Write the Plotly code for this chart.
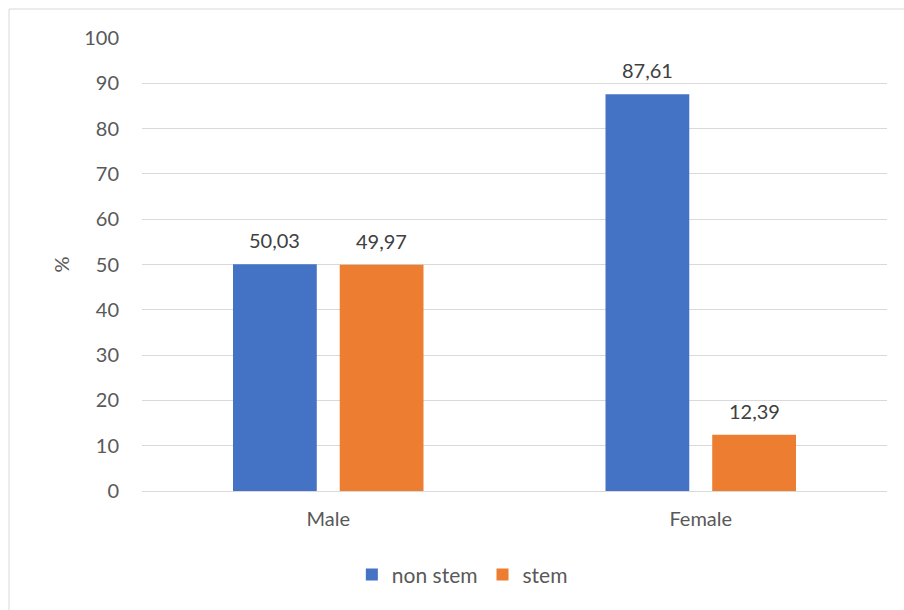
import plotly.graph_objects as go

# Share of students by field, per gender
categories = ["Male", "Female"]
non_stem = [50.03, 87.61]
stem = [49.97, 12.39]
series_names = ["non stem", "stem"]
colors = ["#4472C4", "#ED7D31"]
y_ticks = [0, 10, 20, 30, 40, 50, 60, 70, 80, 90, 100]

FONT = "Lato"

fig = go.Figure()
for name, vals, col in zip(series_names, [non_stem, stem], colors):
    fig.add_trace(go.Bar(
        name=name, x=categories, y=vals,
        marker=dict(color=col, line=dict(width=0)),
    ))

# value labels above each bar
annotations = []
offsets = [-0.5, 0.5]
for off, vals in zip(offsets, [non_stem, stem]):
    for i, v in enumerate(vals):
        annotations.append(dict(
            x=i, y=v, xref="x", yref="y",
            text=f"{v:.2f}".replace(".", ","),
            showarrow=False, yanchor="bottom", yshift=10,
            xshift=off * 107,
            font=dict(family=FONT, size=20, color="#404040"),
        ))

fig.update_layout(
    width=904, height=610,
    margin=dict(l=142, r=17, t=38, b=119),
    paper_bgcolor="white", plot_bgcolor="white",
    barmode="group", bargap=0.427, bargroupgap=0.215,
    font=dict(family=FONT, size=20, color="#595959"),
    showlegend=True,
    legend=dict(orientation="h", x=0.43, xanchor="center", y=-0.185,
                yanchor="middle", font=dict(family=FONT, size=21, color="#595959"),
                itemwidth=30, traceorder="normal"),
    annotations=annotations,
    xaxis=dict(showgrid=False, showline=False, ticks="", tickfont=dict(size=20),
               ticklabelstandoff=14),
    yaxis=dict(range=[0, 100], tickvals=y_ticks, showgrid=True, gridcolor="#D9D9D9",
               gridwidth=1, zeroline=True, zerolinecolor="#D9D9D9", zerolinewidth=1,
               showline=False, ticks="", ticklen=0, tickfont=dict(size=20),
               ticklabelstandoff=22,
               title=dict(text="%", font=dict(size=20, color="#595959"), standoff=9)),
    shapes=[
        dict(type="line", xref="paper", yref="paper", x0=-0.1785, x1=1.03,
             y0=1.064, y1=1.064, line=dict(color="#D9D9D9", width=1)),
        dict(type="line", xref="paper", yref="paper", x0=-0.1785, x1=-0.1785,
             y0=1.064, y1=-0.27, line=dict(color="#D9D9D9", width=1)),
    ],
)

fig.write_html("out.html")
